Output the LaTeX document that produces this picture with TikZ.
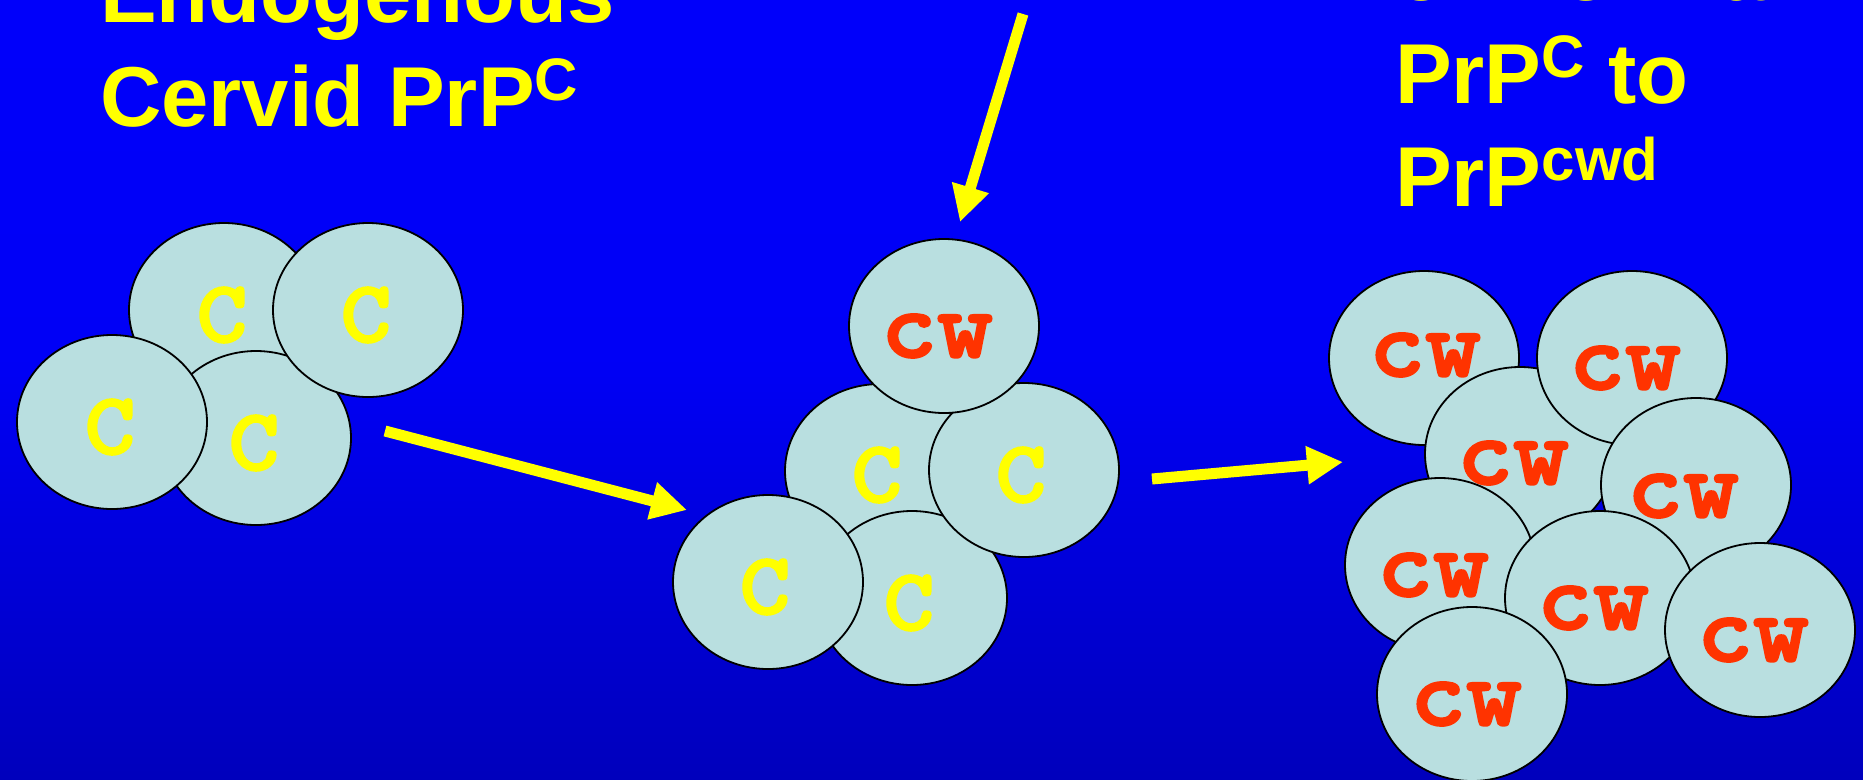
\documentclass[tikz,border=0pt]{standalone}
\usepackage{fontspec}
\setmainfont{Liberation Sans}
\newfontfamily\cellfont{lmmonolt10-bold}[Extension=.otf, FakeStretch=1.1, FakeBold=2.2]
\usetikzlibrary{shapes.geometric,arrows.meta}

\definecolor{cellfill}{RGB}{185,223,224}
\definecolor{prpyellow}{RGB}{255,255,0}
\definecolor{cwdred}{RGB}{255,51,0}
\definecolor{bgtop}{RGB}{0,0,255}
\definecolor{bgmid}{RGB}{0,0,246}
\definecolor{bgbottom}{RGB}{0,0,135}
\pgfdeclareverticalshading{slidebg}{100bp}{color(0bp)=(bgbottom); color(52bp)=(bgmid); color(100bp)=(bgtop)}

% raised, smaller superscript used in the titles
\newcommand{\titlesup}[1]{\raisebox{25.5pt}{\fontsize{60}{60}\selectfont #1}}

\begin{document}
\begin{tikzpicture}[x=1pt,y=-1pt,
  cell/.style={ellipse, draw=black, line width=1.8pt, fill=cellfill,
    minimum width=190pt, minimum height=174pt, inner sep=0pt},
  normal/.style={text=prpyellow, inner sep=0pt,
    font=\cellfont\fontsize{88}{88}\selectfont},
  infected/.style={text=cwdred, inner sep=0pt,
    font=\cellfont\fontsize{97}{97}\selectfont},
  title/.style={text=prpyellow, inner sep=0pt, anchor=base west,
    font=\bfseries\fontsize{85}{100}\selectfont},
  bigarrow/.style={draw=prpyellow, line width=11pt,
    -{Triangle[length=36pt,width=36pt]}}
]
\useasboundingbox (0,0) rectangle (1863,779);
\clip (0,0) rectangle (1863,779);
\shade[shading=slidebg] (0,0) rectangle (1863,779);

% titles
\node[title] (ttlA) at (100,23)  {Endogenous};
\node[title] (ttlB) at (100,126) {Cervid PrP\titlesup{C}};
\node[title] (ttlC) at (1395,1)   {of Normal};
\node[title] (ttlD) at (1395,103) {PrP\titlesup{C} to};
\node[title] (ttlE) at (1395,206) {PrP\titlesup{cwd}};

% group 1: normal cervid PrP
\node[cell] (la) at (224,310) {};  \node[normal] (lat) at (222,315) {C};
\node[cell] (lc) at (256,438) {};  \node[normal] (lct) at (254,443) {C};
\node[cell] (lb) at (368,310) {};  \node[normal] (lbt) at (366,315) {C};
\node[cell] (ld) at (112,422) {};  \node[normal] (ldt) at (110,427) {C};

% group 2: one converted molecule on top
\node[cell] (mml) at (880,471) {};  \node[normal] (mmlt) at (877,475) {C};
\node[cell] (mbm) at (912,598) {};  \node[normal] (mbmt) at (909,603) {C};
\node[cell] (mmr) at (1024,470) {}; \node[normal] (mmrt) at (1021,475) {C};
\node[cell] (mbl) at (768,582) {};  \node[normal] (mblt) at (765,587) {C};
\node[cell] (mtp) at (944,326) {};  \node[infected] (mtpt) at (937,336) {cw};

% group 3: all converted
\node[cell] (rtl) at (1424,358) {}; \node[infected] (rtlt) at (1425,355) {cw};
\node[cell] (rcn) at (1520,454) {}; \node[infected] (rcnt) at (1513,463) {cw};
\node[cell] (rtr) at (1632,358) {}; \node[infected] (rtrt) at (1625,368) {cw};
\node[cell] (rrm) at (1696,485) {}; \node[infected] (rrmt) at (1683,496) {cw};
\node[cell] (rll) at (1440,565) {}; \node[infected] (rllt) at (1433,575) {cw};
\node[cell] (rlc) at (1600,598) {}; \node[infected] (rlct) at (1593,608) {cw};
\node[cell] (rlr) at (1760,630) {}; \node[infected] (rlrt) at (1753,640) {cw};
\node[cell] (rbt) at (1472,694) {}; \node[infected] (rbtt) at (1466,704) {cw};

% arrows
\coordinate (aAs) at (385,431);  \coordinate (aAe) at (687,510);
\coordinate (aBs) at (1152,479); \coordinate (aBe) at (1343,462);
\coordinate (aCs) at (1023,14);  \coordinate (aCe) at (960,222);
\draw[bigarrow] (aAs) -- (aAe);
\draw[bigarrow] (aBs) -- (aBe);
\draw[bigarrow] (aCs) -- (aCe);
\end{tikzpicture}
\end{document}
